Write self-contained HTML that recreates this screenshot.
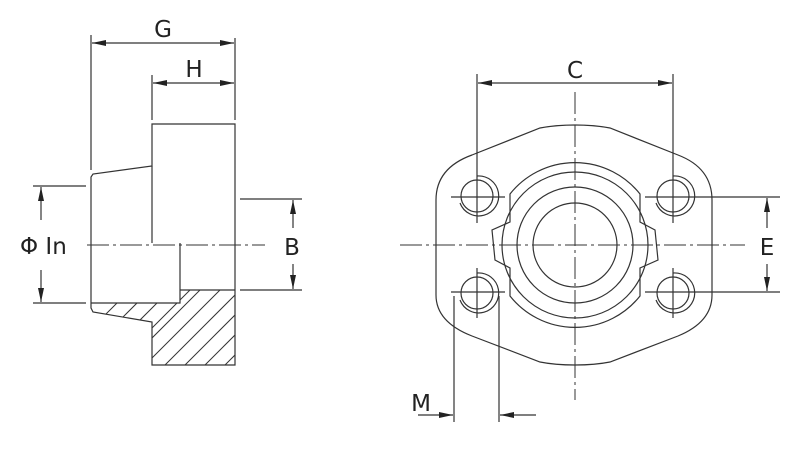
<!DOCTYPE html>
<html><head><meta charset="utf-8"><style>
html,body{margin:0;padding:0;background:#fff;}
svg{display:block;}
text{font-family:"DejaVu Sans","Liberation Sans",sans-serif;fill:#222;}
</style></head><body>
<svg width="800" height="451" viewBox="0 0 800 451" xmlns="http://www.w3.org/2000/svg">
<defs>
<marker id="a" viewBox="0 0 14 6" refX="14" refY="3" markerWidth="14" markerHeight="6" orient="auto-start-reverse" markerUnits="userSpaceOnUse"><path d="M0,0 L14,3 L0,6 Z" fill="#222"/></marker>
<clipPath id="hc"><polygon points="152,290 235,290 235,365 152,365 152,322 92,312 91,303 180,303 180,290"/></clipPath>
</defs>
<g stroke="#333" stroke-width="1.2" fill="none">
<!-- LEFT VIEW -->
<line x1="91" y1="35" x2="91" y2="170"/>
<line x1="235" y1="38" x2="235" y2="120"/>
<line x1="152" y1="75" x2="152" y2="120"/>
<line x1="92" y1="43" x2="234" y2="43" marker-start="url(#a)" marker-end="url(#a)"/>
<line x1="153" y1="83" x2="234" y2="83" marker-start="url(#a)" marker-end="url(#a)"/>
<path d="M152,124 H235 V365 H152 V322 L93,312 L91,308 V177 L93,174 L152,166 Z"/>
<line x1="152" y1="166" x2="152" y2="243"/>
<path d="M91,303 H180 V243"/>
<path d="M180,290 H235"/>
<g clip-path="url(#hc)" stroke-width="1">
<line x1="80" y1="340" x2="130" y2="290"/><line x1="100" y1="340" x2="150" y2="290"/><line x1="120" y1="340" x2="170" y2="290"/><line x1="140" y1="340" x2="190" y2="290"/>
<line x1="140" y1="370" x2="220" y2="290"/><line x1="160" y1="370" x2="240" y2="290"/><line x1="180" y1="370" x2="260" y2="290"/><line x1="200" y1="370" x2="280" y2="290"/><line x1="220" y1="370" x2="300" y2="290"/><line x1="120" y1="370" x2="200" y2="290"/>
</g>
<line x1="87" y1="245" x2="265" y2="245" stroke-dasharray="22,4,3,4" stroke-width="1"/>
<line x1="33" y1="186" x2="86" y2="186"/><line x1="33" y1="303" x2="86" y2="303"/>
<line x1="41" y1="220" x2="41" y2="187" marker-end="url(#a)"/>
<line x1="41" y1="270" x2="41" y2="302" marker-end="url(#a)"/>
<line x1="240" y1="199" x2="302" y2="199"/><line x1="240" y1="290" x2="302" y2="290"/>
<line x1="293" y1="228" x2="293" y2="200" marker-end="url(#a)"/>
<line x1="293" y1="264" x2="293" y2="289" marker-end="url(#a)"/>
<!-- RIGHT VIEW -->
<path d="M575,125 Q595,125 610,128 L678,155 Q712,168 712,200 L712,295 Q712,322 678,336 L610,362 Q595,365 575,365 Q555,365 540,362 L472,336 Q436,322 436,295 L436,200 Q436,168 472,155 L540,128 Q555,125 575,125 Z"/>
<path d="M510,194 A83,83 0 0 1 640,194 L640,222 L655,230 L658,260 L640,268 L640,296 A83,83 0 0 1 510,296 L510,268 L495,260 L492,230 L510,222 Z"/>
<circle cx="575" cy="245" r="73"/>
<circle cx="575" cy="245" r="58"/>
<circle cx="575" cy="245" r="42"/>
<g>
<circle cx="477" cy="196" r="16"/><path d="M460,203 A20,20 0 1 0 477,176"/>
<circle cx="673" cy="196" r="16"/><path d="M656,203 A20,20 0 1 0 673,176"/>
<circle cx="477" cy="293" r="16"/><path d="M477,273 A20,20 0 1 1 460,300"/>
<circle cx="673" cy="293" r="16"/><path d="M673,273 A20,20 0 1 1 656,300"/>
</g>
<line x1="451" y1="197" x2="505" y2="197"/><line x1="645" y1="197" x2="780" y2="197"/>
<line x1="451" y1="292" x2="505" y2="292"/><line x1="645" y1="292" x2="780" y2="292"/>
<line x1="477" y1="74" x2="477" y2="223"/><line x1="673" y1="74" x2="673" y2="223"/>
<line x1="477" y1="268" x2="477" y2="318"/><line x1="673" y1="268" x2="673" y2="318"/>
<line x1="478" y1="83" x2="672" y2="83" marker-start="url(#a)" marker-end="url(#a)"/>
<line x1="400" y1="245" x2="745" y2="245" stroke-dasharray="22,4,3,4" stroke-width="1"/>
<line x1="575" y1="92" x2="575" y2="400" stroke-dasharray="22,4,3,4" stroke-width="1"/>
<line x1="767" y1="228" x2="767" y2="198" marker-end="url(#a)"/>
<line x1="767" y1="264" x2="767" y2="291" marker-end="url(#a)"/>
<line x1="454" y1="296" x2="454" y2="422"/><line x1="499" y1="296" x2="499" y2="422"/>
<line x1="418" y1="415" x2="453" y2="415" marker-end="url(#a)"/>
<line x1="536" y1="415" x2="500" y2="415" marker-end="url(#a)"/>
</g>
<g font-size="23">
<text x="163" y="37" text-anchor="middle">G</text>
<text x="194" y="77" text-anchor="middle">H</text>
<text x="20" y="254">Φ In</text>
<text x="292" y="255" text-anchor="middle">B</text>
<text x="575" y="78" text-anchor="middle">C</text>
<text x="767" y="255" text-anchor="middle">E</text>
<text x="421" y="411" text-anchor="middle">M</text>
</g>
</svg>
</body></html>
